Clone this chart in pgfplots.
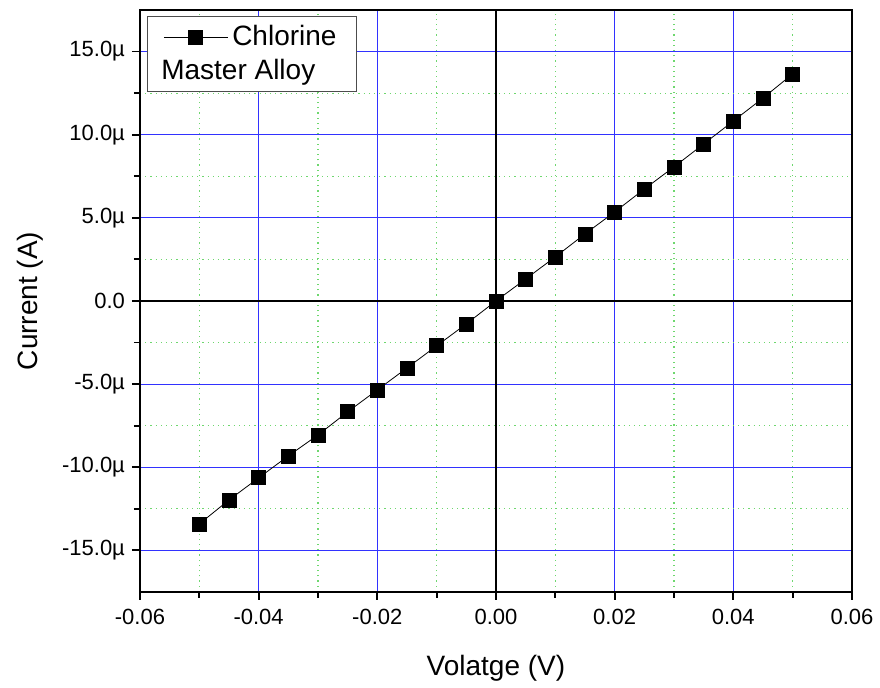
\documentclass[border=0pt]{standalone}
\usepackage{pgfplots}
\pgfplotsset{compat=1.18}
\usepackage{fontspec}
\setmainfont{Liberation Sans}
\definecolor{gridblue}{RGB}{50,50,255}
\definecolor{gridgreen}{RGB}{110,215,110}
\begin{document}
\begin{tikzpicture}
\begin{axis}[
  scale only axis,
  width=356pt, height=291pt,
  xmin=-0.06, xmax=0.06, ymin=-17.5, ymax=17.5,
  scaled x ticks=false, scaled y ticks=false,
  xtick={-0.06,-0.04,-0.02,0,0.02,0.04,0.06},
  xticklabels={-0.06,-0.04,-0.02,0.00,0.02,0.04,0.06},
  ytick={-15,-10,-5,0,5,10,15},
  yticklabels={-15.0µ,-10.0µ,-5.0µ,0.0,5.0µ,10.0µ,15.0µ},
  minor x tick num=1, minor y tick num=1,
  xtick pos=bottom, ytick pos=left,
  tick align=outside,
  major tick length=4pt, minor tick length=3pt,
  every tick/.style={black, line width=0.9pt},
  every minor tick/.style={black, line width=0.9pt},
  axis line style={line width=1pt},
  grid=both,
  major grid style={gridblue, line width=0.6pt, solid},
  minor grid style={gridgreen, line width=0.6pt, dotted},
  tick label style={font=\fontsize{11}{12}\selectfont},
  xticklabel style={yshift=-1pt},
  xlabel={Volatge (V)}, ylabel={Current (A)},
  every axis x label/.style={at={(axis description cs:0.5,-0.1306)}, anchor=center, font=\fontsize{14}{16}\selectfont},
  every axis y label/.style={at={(axis description cs:-0.1545,0.5)}, rotate=90, anchor=center, font=\fontsize{14}{16}\selectfont},
  legend style={at={(axis description cs:0.0098,0.9897)}, anchor=north west,
    font=\fontsize{14}{16}\selectfont, draw={black!70}, line width=0.5pt, fill=white,
    inner xsep=8pt, inner ysep=3pt, row sep=2pt,
    nodes={inner ysep=1.5pt}},
  legend cell align=left,
  legend image code/.code={\draw[mark repeat=2,mark phase=2] plot coordinates {(0pt,0pt) (16pt,0pt) (32pt,0pt)};},
]
\draw[black, line width=0.9pt] (axis cs:0,-17.5) -- (axis cs:0,17.5);
\draw[black, line width=0.9pt] (axis cs:-0.06,0) -- (axis cs:0.06,0);
\addplot[black, line width=0.4pt, mark=square*, mark size=3.5pt, mark options={solid, fill=black}]
coordinates {
(-0.05,-13.41) (-0.045,-11.97) (-0.04,-10.64) (-0.035,-9.32) (-0.03,-8.06)
(-0.025,-6.67) (-0.02,-5.35) (-0.015,-4.03) (-0.01,-2.70) (-0.005,-1.38)
(0,0) (0.005,1.32) (0.01,2.65) (0.015,4.03) (0.02,5.35)
(0.025,6.73) (0.03,8.06) (0.035,9.44) (0.04,10.82) (0.045,12.20) (0.05,13.65)
};
\addlegendentry{Chlorine}
\addlegendimage{empty legend}
\addlegendentry{\hspace{-35.5pt}Master Alloy}
\end{axis}
\path ([shift={(-70pt,-48pt)}]current axis.south west) rectangle ([shift={(14pt,5pt)}]current axis.north east);
\end{tikzpicture}
\end{document}
